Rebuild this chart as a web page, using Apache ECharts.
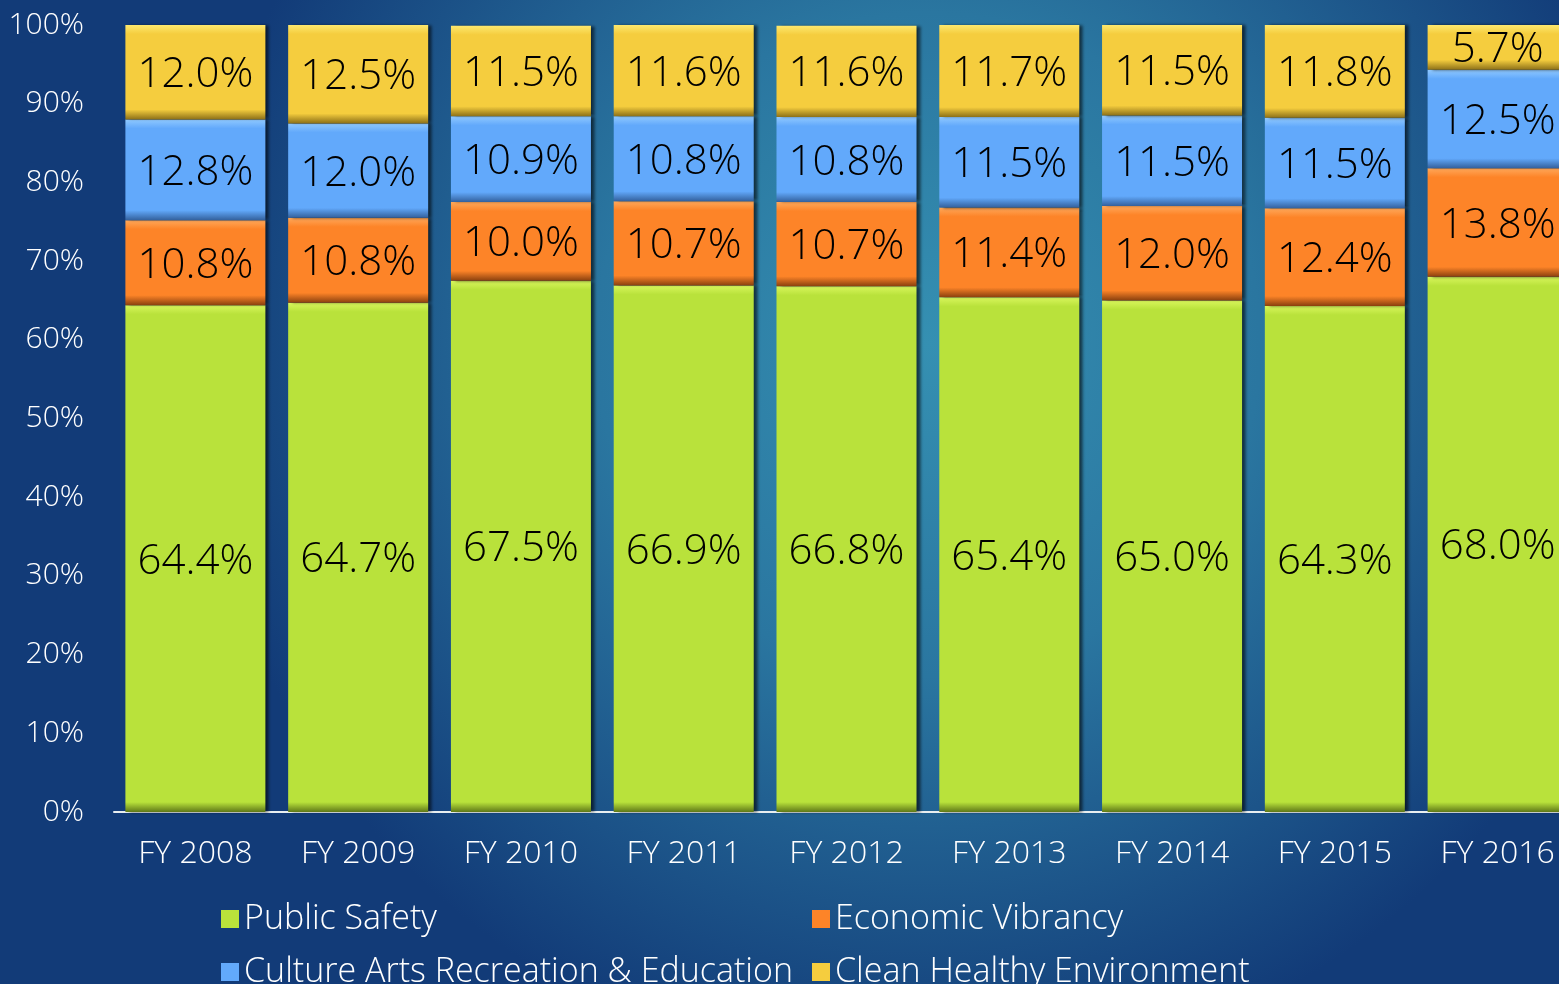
<!DOCTYPE html>
<html>
<head>
<meta charset="utf-8">
<script src="https://cdn.jsdelivr.net/npm/echarts@6/dist/echarts.min.js"></script>
<style>
html,body{margin:0;padding:0;width:1559px;height:984px;overflow:hidden;}
#c{width:1600px;height:984px;}
</style>
</head>
<body>
<div id="c"></div>
<script>
const categories = ['FY 2008','FY 2009','FY 2010','FY 2011','FY 2012','FY 2013','FY 2014','FY 2015','FY 2016'];
const publicSafety = [64.4, 64.7, 67.5, 66.9, 66.8, 65.4, 65.0, 64.3, 68.0];
const economicVibrancy = [10.8, 10.8, 10.0, 10.7, 10.7, 11.4, 12.0, 12.4, 13.8];
const cultureArts = [12.8, 12.0, 10.9, 10.8, 10.8, 11.5, 11.5, 11.5, 12.5];
const cleanHealthy = [12.0, 12.5, 11.5, 11.6, 11.6, 11.7, 11.5, 11.8, 5.7];
const yTicks = [0,10,20,30,40,50,60,70,80,90,100];

const FONT = '"Open Sans", "DejaVu Sans", sans-serif';
const PX_PER_UNIT = 787 / 100;
const BEVEL = 9;

function bevelColor(base, light, dark, v) {
  const f = Math.min(0.3, BEVEL / (v * PX_PER_UNIT));
  return new echarts.graphic.LinearGradient(0, 0, 0, 1, [
    {offset: 0, color: light},
    {offset: f, color: base},
    {offset: 1 - f * 1.1, color: base},
    {offset: 1, color: dark}
  ]);
}

function mkSeries(name, data, base, light, dark) {
  return {
    name: name,
    type: 'bar',
    stack: 'total',
    barWidth: 140,
    data: data.map(v => ({
      value: v,
      itemStyle: {color: bevelColor(base, light, dark, v)}
    })),
    itemStyle: {
      color: base,
      shadowColor: 'rgba(0,0,0,0.6)',
      shadowBlur: 3,
      shadowOffsetX: 4,
      shadowOffsetY: 0
    },
    label: {
      show: true,
      position: 'inside',
      offset: [0, 3],
      formatter: p => p.value.toFixed(1) + '%',
      color: '#000',
      fontFamily: FONT,
      fontSize: 42,
      fontWeight: 300
    },
    emphasis: {disabled: true}
  };
}

const legendBase = {
  orient: 'horizontal',
  itemWidth: 18,
  itemHeight: 18,
  icon: 'rect',
  textStyle: {color: '#fff', fontFamily: FONT, fontSize: 34, fontWeight: 300},
  selectedMode: false
};

const option = {
  backgroundColor: new echarts.graphic.RadialGradient(0.58, 0.35, 0.75, [
    {offset: 0, color: '#3590b2'},
    {offset: 0.45, color: '#2a76a0'},
    {offset: 1, color: '#123b78'}
  ]),
  animation: false,
  grid: {left: 114, top: 25, width: 1465, height: 787, containLabel: false},
  legend: [
    Object.assign({}, legendBase, {data: ['Public Safety'], left: 216, top: 897}),
    Object.assign({}, legendBase, {data: ['Economic Vibrancy'], left: 807, top: 897}),
    Object.assign({}, legendBase, {data: ['Culture Arts Recreation & Education'], left: 216, top: 950}),
    Object.assign({}, legendBase, {data: ['Clean Healthy Environment'], left: 807, top: 950})
  ],
  xAxis: {
    type: 'category',
    data: categories,
    axisLine: {show: true, lineStyle: {color: '#e8eef0', width: 2}},
    axisTick: {show: false},
    axisLabel: {color: '#fff', fontFamily: FONT, fontSize: 32, fontWeight: 300, margin: 26}
  },
  yAxis: {
    type: 'value',
    min: yTicks[0],
    max: yTicks[yTicks.length - 1],
    interval: 10,
    splitLine: {show: false},
    axisLine: {show: false},
    axisTick: {show: false},
    axisLabel: {color: '#fff', fontFamily: FONT, fontSize: 30, fontWeight: 300, margin: 30, formatter: v => v + '%'}
  },
  series: [
    mkSeries('Public Safety', publicSafety, '#b9e23b', '#d8f65c', '#5f7818'),
    mkSeries('Economic Vibrancy', economicVibrancy, '#fd8428', '#ffa85a', '#8a400e'),
    mkSeries('Culture Arts Recreation & Education', cultureArts, '#62a9fb', '#90c9ff', '#33609c'),
    mkSeries('Clean Healthy Environment', cleanHealthy, '#f5cd3e', '#fde86e', '#8c7018')
  ]
};

const chart = echarts.init(document.getElementById('c'), null, {renderer: 'canvas'});
chart.setOption(option);
</script>
</body>
</html>
